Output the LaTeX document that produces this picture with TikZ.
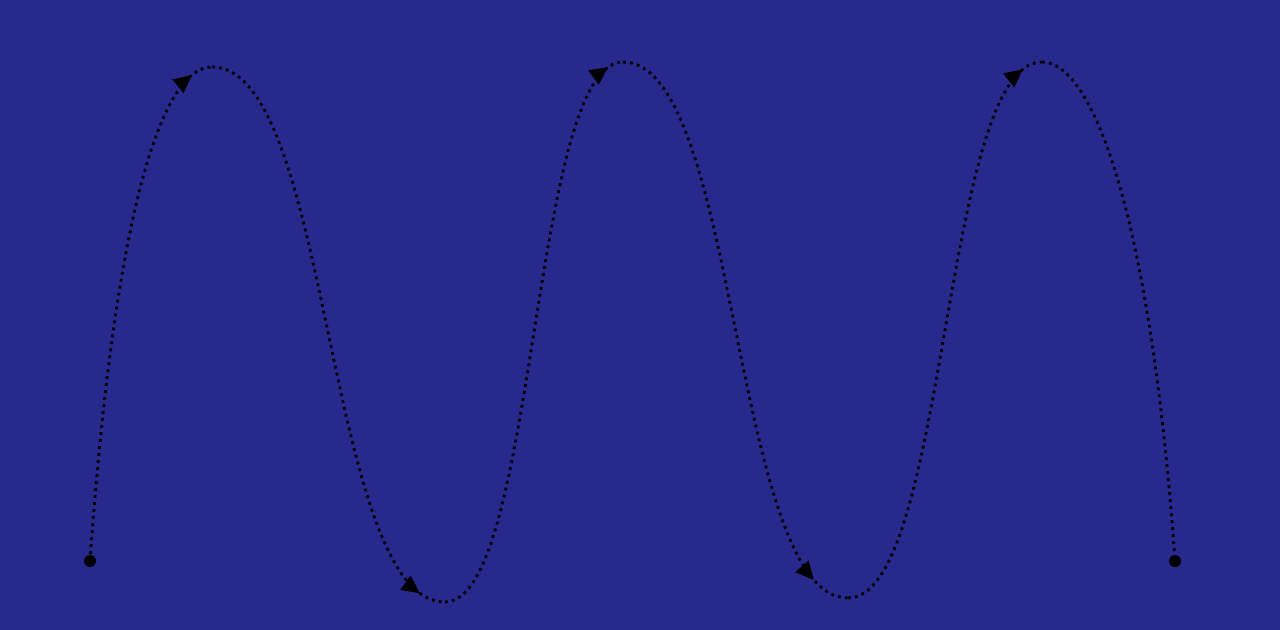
\documentclass[tikz,border=0pt]{standalone}
\usepackage{tikz}
\usetikzlibrary{arrows.meta,decorations.markings}
\usepackage{xcolor}
\definecolor{wavebg}{RGB}{40, 41, 140}

\begin{document}
\begin{tikzpicture}[
    wave/.style={black, line width=0.8pt, dash pattern=on 0.8pt off 1.2pt},
    enddot/.style={circle, fill=black, inner sep=0pt, minimum size=1.2mm},
    backmark/.style={postaction={decorate, decoration={markings,
        mark=at position #1 with {\arrow{Triangle[length=1.8mm, width=1.7mm]}}}}}]
      \fill[wavebg] (0,0) rectangle (12.8,6.3);

      \node[enddot] (start) at (0.90, 0.69) {};
      \coordinate (peakA) at (2.12, 5.63);
      \coordinate (troughA) at (4.45, 0.28);
      \coordinate (peakB) at (6.23, 5.68);
      \coordinate (troughB) at (8.48, 0.32);
      \coordinate (peakC) at (10.42, 5.68);
      \node[enddot] (end) at (11.75, 0.69) {};

      \draw[wave, backmark=-0.22cm] (start.center) .. controls (1.15, 4.20) and (1.62, 5.63) .. (peakA);
      \draw[wave, backmark=-0.27cm] (peakA) .. controls +(1.20, 0) and +(-1.20, 0) .. (troughA);
      \draw[wave, backmark=-0.16cm] (troughA) .. controls +(0.92, 0) and +(-0.92, 0) .. (peakB);
      \draw[wave, backmark=-0.40cm] (peakB) .. controls +(1.16, 0) and +(-1.16, 0) .. (troughB);
      \draw[wave, backmark=-0.21cm] (troughB) .. controls +(1.00, 0) and +(-1.00, 0) .. (peakC);
      \draw[wave] (peakC) .. controls (10.92, 5.68) and (11.50, 4.20) .. (end.center);
    \end{tikzpicture}
\end{document}
